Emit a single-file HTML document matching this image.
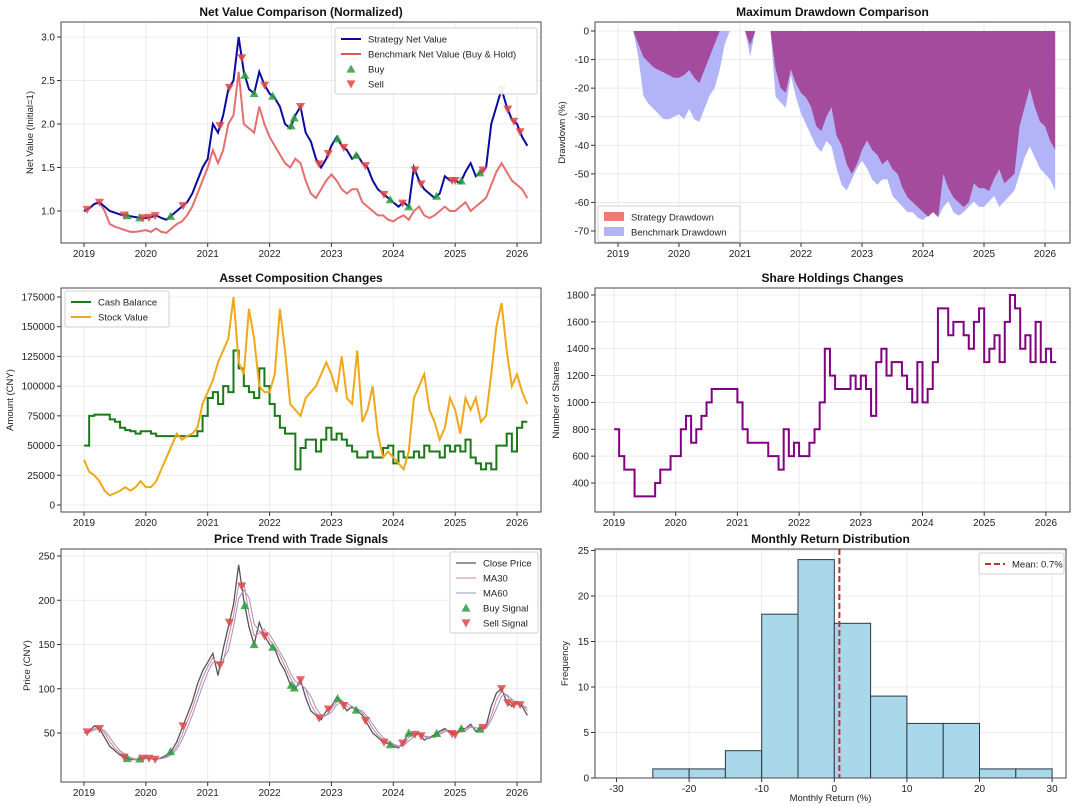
<!DOCTYPE html>
<html><head><meta charset="utf-8"><style>
body{margin:0;background:#fff;}
svg{display:block;font-family:"Liberation Sans",sans-serif;}
</style></head><body>
<svg id="c" width="1080" height="807" viewBox="0 0 1080 807"></svg>
<script>
// ---------- DATA ----------
const startYear = 2019;
const strategyNV = [1.0,1.03,1.08,1.1,1.05,1.0,0.98,0.96,0.95,0.94,0.93,0.92,
0.92,0.93,0.95,0.92,0.9,0.95,1.0,1.05,1.1,1.2,1.35,1.5,
1.6,2.0,1.9,2.1,2.4,2.5,3.0,2.6,2.4,2.35,2.6,2.45,
2.35,2.3,2.2,2.0,1.95,2.1,2.2,1.9,1.8,1.6,1.5,1.6,
1.75,1.85,1.75,1.7,1.6,1.65,1.55,1.5,1.35,1.25,1.2,1.15,
1.1,1.05,1.1,1.05,1.5,1.35,1.25,1.2,1.15,1.2,1.4,1.35,
1.35,1.32,1.45,1.55,1.4,1.45,1.5,2.0,2.2,2.4,2.2,2.05,
2.0,1.85,1.75];
const benchmarkNV = [1.0,1.03,1.08,1.1,1.0,0.85,0.82,0.8,0.78,0.76,0.76,0.77,
0.78,0.76,0.8,0.76,0.75,0.8,0.85,0.88,0.95,1.05,1.2,1.35,
1.5,1.7,1.55,1.7,2.0,2.1,2.6,2.0,1.95,1.9,2.2,2.0,
1.85,1.75,1.65,1.55,1.5,1.6,1.55,1.35,1.2,1.15,1.25,1.35,
1.42,1.35,1.25,1.2,1.25,1.25,1.1,1.05,1.0,0.95,0.95,0.9,
0.88,0.92,0.95,0.9,1.0,1.05,0.95,0.92,0.95,1.0,1.05,1.0,
1.0,1.05,1.1,1.0,1.05,1.1,1.15,1.3,1.45,1.55,1.45,1.35,
1.3,1.25,1.15];
const buyDates = [2019.7,2019.9,2020.4,2021.6,2021.75,2022.05,2022.35,2022.4,2023.1,2023.4,2023.95,2024.25,2024.7,2025.1,2025.4];
const sellDates = [2019.05,2019.25,2019.65,2019.95,2020.05,2020.15,2020.6,2021.2,2021.35,2021.55,2021.92,2022.5,2022.8,2022.95,2023.2,2023.55,2023.85,2024.15,2024.35,2024.45,2024.95,2025.0,2025.45,2025.75,2025.85,2025.95,2026.05];
const cashBalance = [50,75,76,76,76,72,70,65,63,62,60,62,
62,60,58,58,58,58,58,58,58,58,62,75,
90,95,85,100,95,130,115,100,95,90,115,100,
85,75,65,60,60,30,48,55,55,45,55,65,
55,60,55,50,45,40,40,45,40,40,48,50,
35,45,40,40,45,40,50,45,45,40,50,45,
50,45,55,40,35,30,35,30,50,50,60,45,
65,70,70];
const stockValue = [38,28,25,20,12,8,10,12,15,12,15,20,
15,15,20,30,40,50,60,55,58,60,65,85,
95,105,120,130,140,175,120,110,165,140,100,95,
95,110,165,130,85,80,75,90,95,100,110,120,
110,95,125,90,85,130,70,80,100,60,40,45,
40,35,30,45,90,100,110,80,70,55,65,90,
80,60,90,80,90,70,75,110,150,170,130,100,
110,95,85];
const shares = [800,600,500,500,300,300,300,300,400,500,500,600,
600,800,900,700,800,900,1000,1100,1100,1100,1100,1100,
1000,800,700,700,700,700,600,600,500,800,600,700,
600,600,700,800,1000,1400,1200,1100,1100,1100,1200,1100,
1200,1100,900,1300,1400,1200,1300,1300,1200,1100,1000,1300,
1000,1100,1300,1700,1700,1500,1600,1600,1500,1400,1600,1700,
1300,1400,1500,1300,1600,1800,1700,1400,1500,1300,1600,1300,
1400,1300,1300];
const closePrice = [50,52,58,55,45,35,30,25,22,20,20,21,
22,21,20,22,25,30,40,55,70,85,105,120,
130,140,115,145,170,195,240,200,170,150,175,160,
150,145,130,120,105,100,110,90,75,70,65,75,
80,90,85,75,80,75,70,60,50,45,40,38,
35,33,40,50,48,50,42,45,48,52,55,50,
48,55,55,60,52,55,58,80,95,100,85,80,
85,80,70];
const histBins = [-25,-20,-15,-10,-5,0,5,10,15,20,25];
const histCounts = [1,1,3,18,24,17,9,6,6,1,1];
const meanReturn = 0.7;
const yearTicks = [2019,2020,2021,2022,2023,2024,2025,2026];
const nvTicks = [1.0,1.5,2.0,2.5,3.0];
const ddTicks = [0,-10,-20,-30,-40,-50,-60,-70];
const amtTicks = [0,25000,50000,75000,100000,125000,150000,175000];
const shareTicks = [400,600,800,1000,1200,1400,1600,1800];
const priceTicks = [50,100,150,200,250];
const histXTicks = [-30,-20,-10,0,10,20,30];
const histYTicks = [0,5,10,15,20,25];

// ---------- HELPERS ----------
const svg = document.getElementById('c');
const NS = 'http://www.w3.org/2000/svg';
function mk(tag, attrs, parent, text){
  const e = document.createElementNS(NS, tag);
  for (const k in attrs) e.setAttribute(k, attrs[k]);
  if (text !== undefined) e.textContent = text;
  (parent||svg).appendChild(e);
  return e;
}
const dates = strategyNV.map((_,i)=>startYear + i/12);
function interp(arr, t){
  const f=(t-startYear)*12; const i=Math.max(0,Math.min(arr.length-2,Math.floor(f))); const r=f-i;
  return arr[i]*(1-r)+arr[i+1]*r;
}
function ma(arr,n){return arr.map((_,i)=>{const s=Math.max(0,i-n+1);let t=0;for(let j=s;j<=i;j++)t+=arr[j];return t/(i-s+1);});}

function panel(name, box, title, ylabel, ylx, xlabel){
  const g = mk('g',{});
  
  
  const t = mk('text',{x:(box.L+box.R)/2,y:box.T-6,'text-anchor':'middle','font-size':12,'font-weight':'bold',fill:'#111'},g,title);
  
  
  const yl = mk('text',{x:0,y:0,'text-anchor':'middle','font-size':9.5,fill:'#222',transform:`translate(${ylx},${(box.T+box.B)/2}) rotate(-90)`},g,ylabel);
  
  
  if (xlabel){
    const xl = mk('text',{x:(box.L+box.R)/2,y:box.B+23,'text-anchor':'middle','font-size':9.5,fill:'#222'},g,xlabel);
    
    
  }
  return g;
}
function axes(g, box, xs, xf, xlab, ys, yf, ylab){
  xs.forEach(v=>{const x=xf(v);
    mk('line',{x1:x,x2:x,y1:box.T,y2:box.B,stroke:'#e6e6e6','stroke-width':0.8},g);
    mk('line',{x1:x,x2:x,y1:box.B,y2:box.B+4,stroke:'#333'},g);
    const t=mk('text',{x:x,y:box.B+14,'text-anchor':'middle','font-size':10,fill:'#222'},g,xlab(v));
    
    
  });
  ys.forEach(v=>{const y=yf(v);
    mk('line',{x1:box.L,x2:box.R,y1:y,y2:y,stroke:'#e6e6e6','stroke-width':0.8},g);
    mk('line',{x1:box.L-4,x2:box.L,y1:y,y2:y,stroke:'#333'},g);
    const t=mk('text',{x:box.L-6,y:y+3.5,'text-anchor':'end','font-size':10,fill:'#222'},g,ylab(v));
    
    
  });
}
function frame(g, box){
  mk('rect',{x:box.L,y:box.T,width:box.R-box.L,height:box.B-box.T,fill:'none',stroke:'#444','stroke-width':1},g);
}
function pathD(xsArr, ysArr, step){
  let d='';
  for(let i=0;i<xsArr.length;i++){
    if(i===0) d+=`M${xsArr[i]},${ysArr[i]}`;
    else if(step) d+=`H${xsArr[i]}V${ysArr[i]}`;
    else d+=`L${xsArr[i]},${ysArr[i]}`;
  }
  return d;
}
function tri(g,x,y,up,color,name){
  const s=4.5;
  const pts = up ? `${x},${y-s} ${x-s},${y+s*0.8} ${x+s},${y+s*0.8}` : `${x},${y+s} ${x-s},${y-s*0.8} ${x+s},${y-s*0.8}`;
  const p=mk('polygon',{points:pts,fill:color,opacity:0.85},g);
  
  
  return p;
}
function legend(g, x, y, w, items){
  const h = items.length*15+6;
  const r=mk('rect',{x:x,y:y,width:w,height:h,fill:'#fff',stroke:'#ccc',rx:2,opacity:0.9},g);
  
  
  items.forEach((it,i)=>{
    const cy=y+11+i*15;
    if(it.type==='line') mk('line',{x1:x+6,x2:x+26,y1:cy,y2:cy,stroke:it.color,'stroke-width':it.w||2,'stroke-dasharray':it.dash||''},g);
    else if(it.type==='patch') mk('rect',{x:x+6,y:cy-5,width:20,height:9,fill:it.color,stroke:it.stroke||'none'},g);
    else tri(g,x+16,cy,it.type==='up',it.color,'legend-marker');
    const t=mk('text',{x:x+33,y:cy+3.5,'font-size':9.5,fill:'#222'},g,it.label);
    
    
  });
}
const yearFmt = v=>String(v);

// ---------- PANEL 1: Net value ----------
{
const box={L:61,R:541,T:22,B:243};
const xf=t=>84+(t-2019)*61.86, yf=v=>211-(v-1)*87;
const g=panel('net-value-panel',box,'Net Value Comparison (Normalized)','Net Value (Initial=1)',33);
axes(g,box,yearTicks,xf,yearFmt,nvTicks,yf,v=>v.toFixed(1));
const xs=dates.map(xf);
const b=mk('path',{d:pathD(xs,benchmarkNV.map(yf)),fill:'none',stroke:'#e05555','stroke-width':2,opacity:0.85},g);


const s=mk('path',{d:pathD(xs,strategyNV.map(yf)),fill:'none',stroke:'#0a0aa0','stroke-width':2},g);


buyDates.forEach(t=>tri(g,xf(t),yf(interp(strategyNV,t)),true,'#2e9e3e','buy-marker'));
sellDates.forEach(t=>tri(g,xf(t),yf(interp(strategyNV,t)),false,'#e04848','sell-marker'));
frame(g,box);
legend(g,335,28,202,[{type:'line',color:'#0a0aa0',label:'Strategy Net Value'},{type:'line',color:'#e05555',label:'Benchmark Net Value (Buy & Hold)'},{type:'up',color:'#2e9e3e',label:'Buy'},{type:'down',color:'#e04848',label:'Sell'}]);
}

// ---------- PANEL 2: Drawdown ----------
{
const box={L:595,R:1070,T:22,B:243};
const xf=t=>618+(t-2019)*61, yf=v=>31-v*2.857;
const g=panel('drawdown-panel',box,'Maximum Drawdown Comparison','Drawdown (%)',565);
axes(g,box,yearTicks,xf,yearFmt,ddTicks,yf,v=>String(v));
function dd(arr){let pk=-1;return arr.map(v=>{pk=Math.max(pk,v);return (v/pk-1)*100;});}
const xs=dates.map(xf);
function area(vals,color,name){
  const d=pathD(xs,vals.map(yf))+`L${xs[xs.length-1]},${yf(0)}L${xs[0]},${yf(0)}Z`;
  const p=mk('path',{d:d,fill:color},g);
  
  
}
area(dd(benchmarkNV),'#b3b3f7','benchmark-drawdown-area');
area(dd(strategyNV),'#a54b9d','strategy-drawdown-area');
frame(g,box);
legend(g,598,206,142,[{type:'patch',color:'#ee7a72',label:'Strategy Drawdown'},{type:'patch',color:'#b3b3f7',label:'Benchmark Drawdown'}]);
}

// ---------- PANEL 3: Asset composition ----------
{
const box={L:61,R:541,T:288,B:512};
const xf=t=>84+(t-2019)*61.86, yf=v=>505-v*208/175000;
const g=panel('asset-composition-panel',box,'Asset Composition Changes','Amount (CNY)',13);
axes(g,box,yearTicks,xf,yearFmt,amtTicks,yf,v=>String(v));
const xs=dates.map(xf);
const c=mk('path',{d:pathD(xs,cashBalance.map(v=>yf(v*1000)),true),fill:'none',stroke:'#1a7a1a','stroke-width':2},g);


const s=mk('path',{d:pathD(xs,stockValue.map(v=>yf(v*1000))),fill:'none',stroke:'#f0a818','stroke-width':2},g);


frame(g,box);
legend(g,65,291,104,[{type:'line',color:'#1a7a1a',label:'Cash Balance'},{type:'line',color:'#f0a818',label:'Stock Value'}]);
}

// ---------- PANEL 4: Shares ----------
{
const box={L:595,R:1070,T:288,B:512};
const xf=t=>614+(t-2019)*61.7, yf=v=>483-(v-400)*188/1400;
const g=panel('share-holdings-panel',box,'Share Holdings Changes','Number of Shares',559);
axes(g,box,yearTicks,xf,yearFmt,shareTicks,yf,v=>String(v));
const p=mk('path',{d:pathD(dates.map(xf),shares.map(yf),true),fill:'none',stroke:'#800080','stroke-width':2},g);


frame(g,box);
}

// ---------- PANEL 5: Price ----------
{
const box={L:61,R:541,T:549,B:782};
const xf=t=>84+(t-2019)*61.86, yf=v=>733-(v-50)*177/200;
const g=panel('price-trend-panel',box,'Price Trend with Trade Signals','Price (CNY)',30);
axes(g,box,yearTicks,xf,yearFmt,priceTicks,yf,v=>String(v));
const xs=dates.map(xf);
const cp=mk('path',{d:pathD(xs,closePrice.map(yf)),fill:'none',stroke:'#555','stroke-width':1.3},g);


const m1=mk('path',{d:pathD(xs,ma(closePrice,2).map(yf)),fill:'none',stroke:'#d080a0','stroke-width':1},g);


const m2=mk('path',{d:pathD(xs,ma(closePrice,3).map(yf)),fill:'none',stroke:'#a090c0','stroke-width':1},g);


buyDates.forEach(t=>tri(g,xf(t),yf(interp(closePrice,t)),true,'#2e9e3e','buy-signal'));
sellDates.forEach(t=>tri(g,xf(t),yf(interp(closePrice,t)),false,'#e04848','sell-signal'));
frame(g,box);
legend(g,450,552,88,[{type:'line',color:'#555',label:'Close Price',w:1.3},{type:'line',color:'#d080a0',label:'MA30',w:1},{type:'line',color:'#a090c0',label:'MA60',w:1},{type:'up',color:'#2e9e3e',label:'Buy Signal'},{type:'down',color:'#e04848',label:'Sell Signal'}]);
}

// ---------- PANEL 6: Histogram ----------
{
const box={L:595,R:1066,T:549,B:778};
const xf=v=>616.5+(v+30)*7.26, yf=v=>778-v*9.1;
const g=panel('monthly-return-panel',box,'Monthly Return Distribution','Frequency',568,'Monthly Return (%)');
axes(g,box,histXTicks,xf,v=>String(v),histYTicks,yf,v=>String(v));
histBins.forEach((b,i)=>{
  const x0=xf(b), x1=xf(b+5), y=yf(histCounts[i]);
  const r=mk('rect',{x:x0,y:y,width:x1-x0,height:yf(0)-y,fill:'#a8d8ea',stroke:'#2a3a40','stroke-width':1},g);
  
  
});
const mx=xf(meanReturn);
const ml=mk('line',{x1:mx,x2:mx,y1:box.T,y2:box.B,stroke:'#c03030','stroke-width':2,'stroke-dasharray':'6,3'},g);


frame(g,box);
legend(g,979,553,85,[{type:'line',color:'#c03030',label:'Mean: '+meanReturn+'%',dash:'6,3'}]);
}
</script>
</body></html>
